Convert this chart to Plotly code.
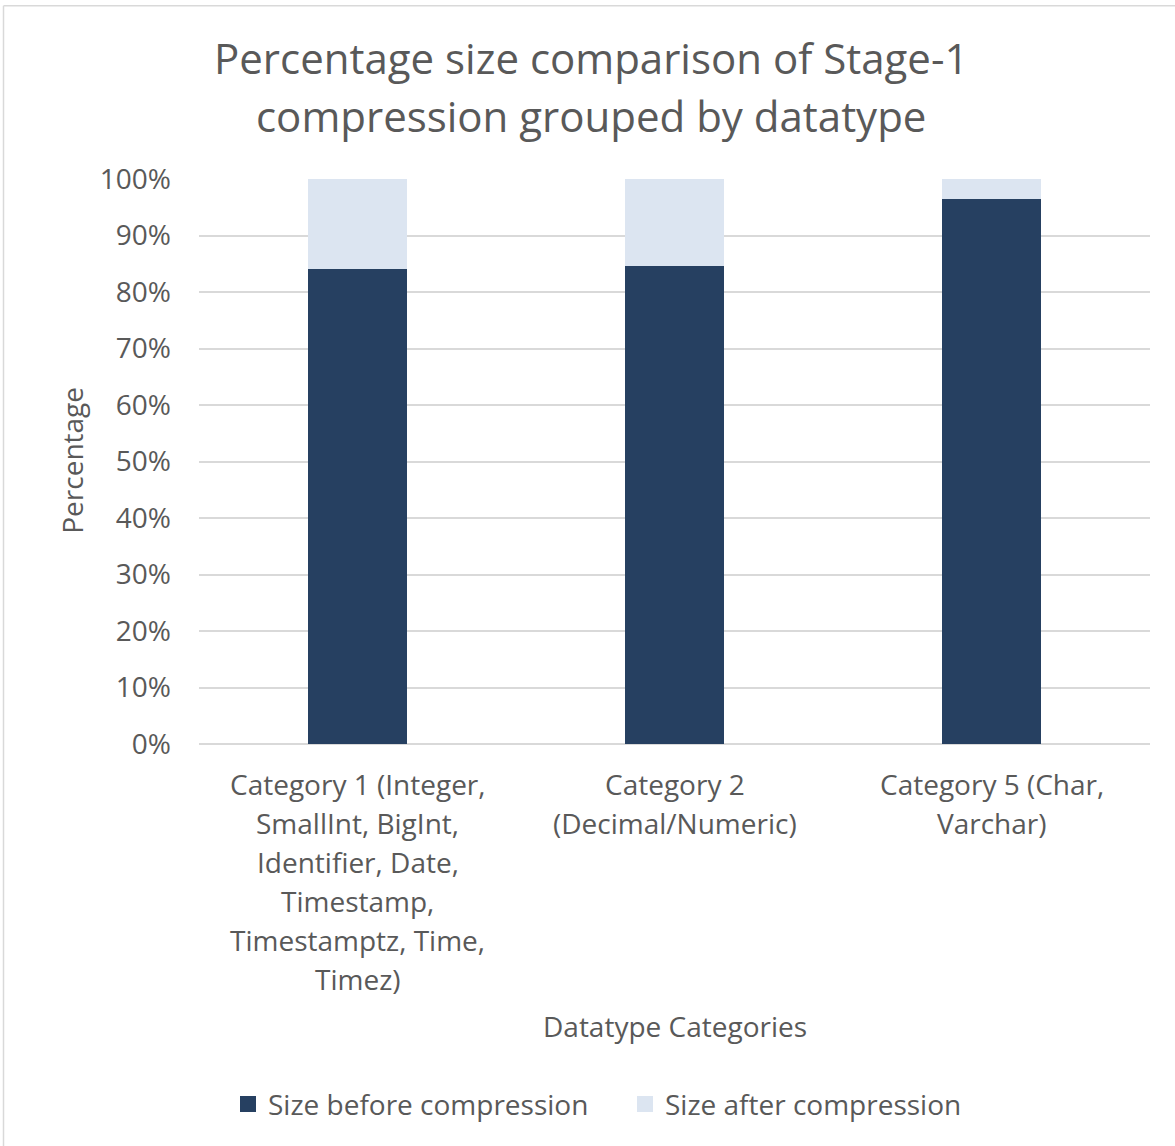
import plotly.graph_objects as go

categories = [
    "Category 1 (Integer,<br>SmallInt, BigInt,<br>Identifier, Date,<br>Timestamp,<br>Timestamptz, Time,<br>Timez)",
    "Category 2<br>(Decimal/Numeric)",
    "Category 5 (Char,<br>Varchar)",
]
size_before = [84.0, 84.6, 96.4]
size_after = [16.0, 15.4, 3.6]
title_lines = ["Percentage size comparison of Stage-1", "compression grouped by datatype"]

W, H = 1175, 1146
L, R, T, B = 199, 1150, 179, 744.5
FONT = "Open Sans, sans-serif"
GREY = "#595959"
DARK, LIGHT = "#264061", "#DCE5F1"
TICK_SIZE = 28
TITLE_SIZE = 42


def px_x(px):
    return (px - L) / (R - L)


def px_y(py):
    return (B - py) / (B - T)


fig = go.Figure()
fig.add_trace(go.Bar(name="Size before compression", x=categories, y=size_before,
                     marker=dict(color=DARK, line=dict(width=0)), showlegend=False))
fig.add_trace(go.Bar(name="Size after compression", x=categories, y=size_after,
                     marker=dict(color=LIGHT, line=dict(width=0)), showlegend=False))
# legend entries with larger square swatches
for name, col in [("Size before compression", DARK), ("Size after compression", LIGHT)]:
    fig.add_trace(go.Scatter(name=name, x=[None], y=[None], mode="markers",
                             marker=dict(symbol="square", size=17, color=col)))

annotations = []
# title, one annotation per line for wider line spacing
for i, line in enumerate(title_lines):
    annotations.append(dict(text=line, xref="paper", yref="paper", x=px_x(591),
                            y=px_y(57 + 58 * i), xanchor="center", yanchor="middle",
                            showarrow=False, font=dict(size=TITLE_SIZE, color=GREY, family=FONT)))
# category labels, one annotation per line
for cat in categories:
    for j, line in enumerate(cat.split("<br>")):
        annotations.append(dict(text=line, xref="x", yref="paper", x=cat,
                                y=px_y(785 + 39 * j), xanchor="center", yanchor="middle",
                                showarrow=False, font=dict(size=TICK_SIZE, color=GREY, family=FONT)))
annotations += [
    dict(text="Percentage", xref="paper", yref="paper", x=px_x(72), y=px_y(461),
         xanchor="center", yanchor="middle", textangle=-90, showarrow=False,
         font=dict(size=TICK_SIZE, color=GREY, family=FONT)),
    dict(text="Datatype Categories", xref="paper", yref="paper", x=px_x(675), y=px_y(1027),
         xanchor="center", yanchor="middle", showarrow=False,
         font=dict(size=TICK_SIZE, color=GREY, family=FONT)),
]

fig.update_layout(
    width=W, height=H,
    barmode="stack", bargap=0.685,
    plot_bgcolor="white", paper_bgcolor="white",
    margin=dict(l=L, r=W - R, t=T, b=H - B, pad=0),
    font=dict(family=FONT, color=GREY, size=TICK_SIZE),
    showlegend=True,
    legend=dict(orientation="h", x=px_x(228), xanchor="left", y=px_y(1105), yanchor="middle",
                font=dict(size=TICK_SIZE, color=GREY), traceorder="normal",
                itemwidth=30, entrywidth=352, entrywidthmode="pixels"),
    xaxis=dict(showgrid=False, showline=False, ticks="", showticklabels=False),
    yaxis=dict(range=[0, 100], dtick=10, ticksuffix="%", showgrid=True, gridcolor="#D9D9D9",
               gridwidth=1.5, zeroline=True, zerolinecolor="#D9D9D9", zerolinewidth=1.5,
               showline=False, ticks="", tickfont=dict(size=TICK_SIZE, color=GREY),
               ticklabelstandoff=27),
    annotations=annotations,
    shapes=[
        dict(type="line", xref="paper", yref="paper", x0=px_x(3.5), x1=px_x(1180),
             y0=px_y(5.5), y1=px_y(5.5), line=dict(color="#D9D9D9", width=1.5)),
        dict(type="line", xref="paper", yref="paper", x0=px_x(3.5), x1=px_x(3.5),
             y0=px_y(5.5), y1=px_y(1150), line=dict(color="#D9D9D9", width=1.5)),
    ],
)

fig.write_html("out.html")
